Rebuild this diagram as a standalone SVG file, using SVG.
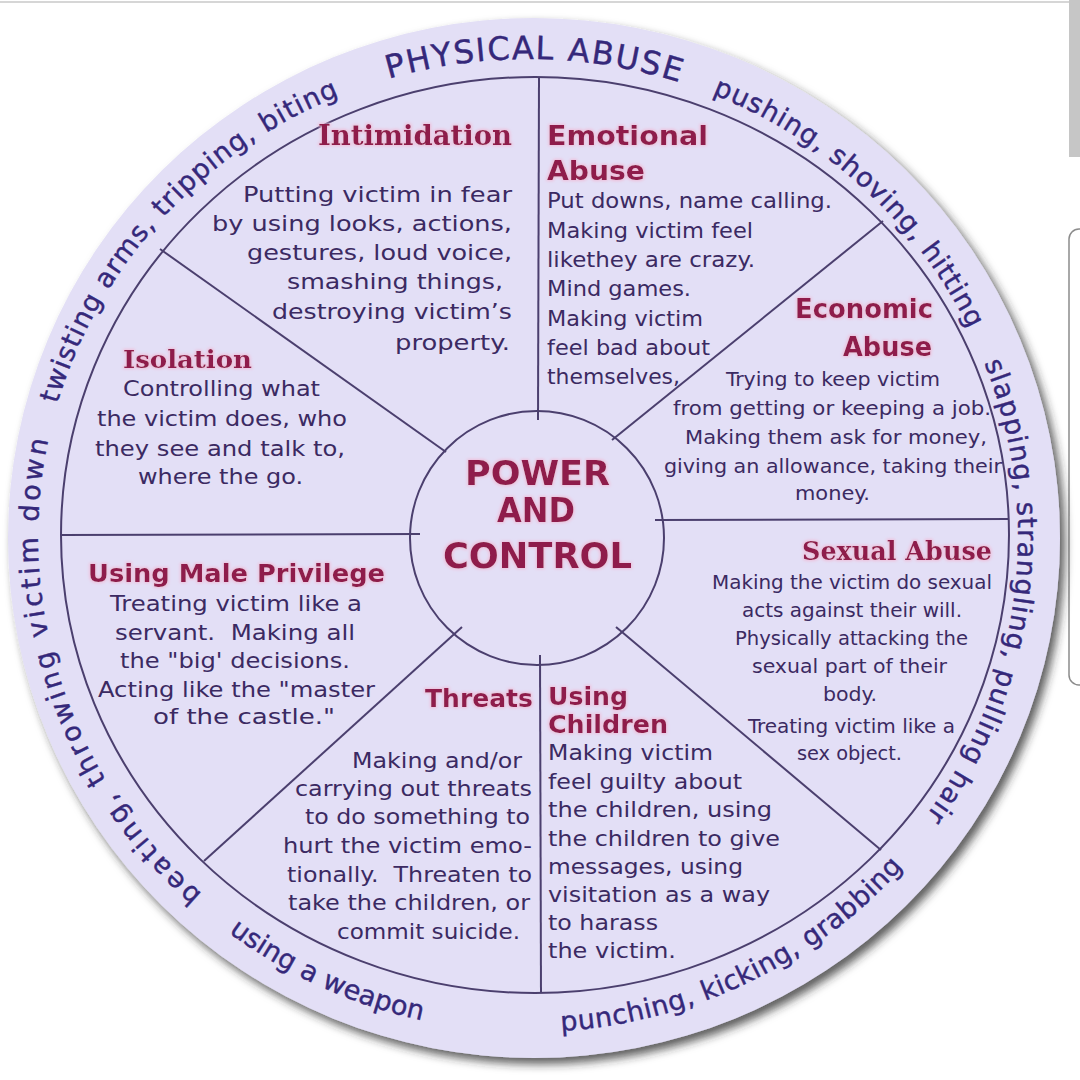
<svg xmlns="http://www.w3.org/2000/svg" width="1080" height="1080" viewBox="0 0 1080 1080">
<style>
.ring{font-family:"DejaVu Sans","Noto Sans",sans-serif;font-size:27px;fill:#35287a;stroke:#35287a;stroke-width:0.4}
.ringcap{font-family:"DejaVu Sans","Noto Sans",sans-serif;font-size:32px;fill:#35287a;stroke:#35287a;stroke-width:0.4}
.hs{font-family:"DejaVu Serif","Liberation Serif",serif;font-weight:bold;fill:#8f1d4b}
.hb{font-family:"DejaVu Sans","Liberation Sans",sans-serif;font-weight:bold;fill:#8f1d4b}
.b{font-family:"DejaVu Sans","Liberation Sans",sans-serif;font-size:21px;fill:#3b2a62}
.bn{font-family:"DejaVu Sans Condensed","DejaVu Sans","Liberation Sans",sans-serif;font-size:20px;fill:#3b2a62}
.ln{stroke:#4b3f6e;stroke-width:2;fill:none}
</style>
<defs>
<filter id="shadow" x="-5%" y="-5%" width="112%" height="112%">
<feDropShadow dx="5" dy="6" stdDeviation="5" flood-color="#2a2a2a" flood-opacity="0.75"/>
</filter>
<filter id="glow" x="-10%" y="-30%" width="120%" height="160%">
<feMorphology in="SourceAlpha" operator="dilate" radius="1" result="d"/>
<feGaussianBlur in="d" stdDeviation="1.5" result="bl"/>
<feFlood flood-color="#f2b6d2" flood-opacity="0.8"/>
<feComposite in2="bl" operator="in" result="g"/>
<feMerge><feMergeNode in="g"/><feMergeNode in="SourceGraphic"/></feMerge>
</filter>
<path id="cw" d="M 528 1015 A 490 478 0 0 1 528 59 A 490 478 0 0 1 528 1015"/>
<path id="ccw" d="M 30 539 A 500 493 0 0 0 1030 539"/>
</defs>
<rect width="1080" height="1080" fill="#ffffff"/>
<line x1="0" y1="2" x2="1080" y2="2" stroke="#d6d6d6" stroke-width="2"/>
<rect x="1069" y="0" width="11" height="157" fill="#c6c6c6"/>
<rect x="1069" y="229" width="24" height="456" rx="10" fill="#ffffff" stroke="#8c8c8c" stroke-width="1.5"/>

<g id="wheel">
<ellipse cx="534" cy="538" rx="526" ry="520" fill="#e3dff6" filter="url(#shadow)"/>
<ellipse cx="535" cy="535" rx="474" ry="458" class="ln"/>
</g>

<g id="connectors" class="ln">
<line x1="539" y1="77" x2="538" y2="420"/>
<line x1="541" y1="993" x2="540" y2="655"/>
<line x1="61" y1="535" x2="420" y2="534"/>
<line x1="1009" y1="519" x2="655" y2="520"/>
<line x1="160" y1="249" x2="446" y2="452"/>
<line x1="883" y1="221" x2="612" y2="440"/>
<line x1="204" y1="861" x2="462" y2="627"/>
<line x1="881" y1="850" x2="616" y2="627"/>
</g>

<g id="center">
<circle cx="537" cy="538" r="127" fill="#e3dff6" class="ln"/>
<g filter="url(#glow)">
<text class="hb" font-size="34" x="465" y="485" textLength="145" lengthAdjust="spacingAndGlyphs">POWER</text>
<text class="hb" font-size="34" x="497" y="522" textLength="78" lengthAdjust="spacingAndGlyphs">AND</text>
<text class="hb" font-size="36" x="443" y="568" textLength="189" lengthAdjust="spacingAndGlyphs">CONTROL</text>
</g>
</g>

<g id="physical-abuse">
<text class="ring"><textPath href="#cw" startOffset="355" textLength="503" lengthAdjust="spacing">beating, throwing victim down</textPath></text>
<text class="ring"><textPath href="#cw" startOffset="895" textLength="432" lengthAdjust="spacing">twisting arms, tripping, biting</textPath></text>
<text class="ringcap"><textPath href="#cw" startOffset="1379" textLength="295" lengthAdjust="spacing">PHYSICAL ABUSE</textPath></text>
<text class="ring"><textPath href="#cw" startOffset="1709" textLength="356" lengthAdjust="spacing">pushing, shoving, hitting</textPath></text>
<text class="ring"><textPath href="#cw" startOffset="2102" textLength="477" lengthAdjust="spacing">slapping, strangling, pulling hair</textPath></text>
<text class="ring"><textPath href="#ccw" startOffset="457" textLength="214" lengthAdjust="spacing">using a weapon</textPath></text>
<text class="ring"><textPath href="#ccw" startOffset="811" textLength="389" lengthAdjust="spacing">punching, kicking, grabbing</textPath></text>
</g>

<g id="intimidation">
<text class="hs" font-size="27" x="318" y="145" textLength="194" lengthAdjust="spacingAndGlyphs" filter="url(#glow)">Intimidation</text>
<text class="b" x="243" y="202" textLength="269" lengthAdjust="spacingAndGlyphs">Putting victim in fear</text>
<text class="b" x="212" y="231" textLength="300" lengthAdjust="spacingAndGlyphs">by using looks, actions,</text>
<text class="b" x="247" y="260" textLength="265" lengthAdjust="spacingAndGlyphs">gestures, loud voice,</text>
<text class="b" x="287" y="289" textLength="216" lengthAdjust="spacingAndGlyphs">smashing things,</text>
<text class="b" x="272" y="319" textLength="240" lengthAdjust="spacingAndGlyphs">destroying victim’s</text>
<text class="b" x="395" y="350" textLength="115" lengthAdjust="spacingAndGlyphs">property.</text>
</g>

<g id="emotional-abuse">
<g filter="url(#glow)">
<text class="hb" font-size="27" x="547" y="145" textLength="161" lengthAdjust="spacingAndGlyphs">Emotional</text>
<text class="hb" font-size="27" x="547" y="180" textLength="98" lengthAdjust="spacingAndGlyphs">Abuse</text>
</g>
<text class="b" x="547" y="208" textLength="285" lengthAdjust="spacingAndGlyphs">Put downs, name calling.</text>
<text class="b" x="547" y="238" textLength="206" lengthAdjust="spacingAndGlyphs">Making victim feel</text>
<text class="b" x="547" y="267" textLength="208" lengthAdjust="spacingAndGlyphs">likethey are crazy.</text>
<text class="b" x="547" y="296" textLength="144" lengthAdjust="spacingAndGlyphs">Mind games.</text>
<text class="b" x="547" y="326" textLength="156" lengthAdjust="spacingAndGlyphs">Making victim</text>
<text class="b" x="547" y="355" textLength="163" lengthAdjust="spacingAndGlyphs">feel bad about</text>
<text class="b" x="547" y="384" textLength="133" lengthAdjust="spacingAndGlyphs">themselves,</text>
</g>

<g id="economic-abuse">
<g filter="url(#glow)">
<text class="hb" font-size="27" x="795" y="318" textLength="138" lengthAdjust="spacingAndGlyphs">Economic</text>
<text class="hb" font-size="27" x="843" y="356" textLength="89" lengthAdjust="spacingAndGlyphs">Abuse</text>
</g>
<text class="bn" x="726" y="386" textLength="214" lengthAdjust="spacingAndGlyphs">Trying to keep victim</text>
<text class="bn" x="673" y="415" textLength="318" lengthAdjust="spacingAndGlyphs">from getting or keeping a job.</text>
<text class="bn" x="685" y="444" textLength="302" lengthAdjust="spacingAndGlyphs">Making them ask for money,</text>
<text class="bn" x="664" y="473" textLength="338" lengthAdjust="spacingAndGlyphs">giving an allowance, taking their</text>
<text class="bn" x="795" y="500" textLength="75" lengthAdjust="spacingAndGlyphs">money.</text>
</g>

<g id="sexual-abuse">
<text class="hs" font-size="26" x="802" y="560" textLength="190" lengthAdjust="spacingAndGlyphs" filter="url(#glow)">Sexual Abuse</text>
<text class="bn" x="712" y="589" textLength="280" lengthAdjust="spacingAndGlyphs">Making the victim do sexual</text>
<text class="bn" x="742" y="617" textLength="220" lengthAdjust="spacingAndGlyphs">acts against their will.</text>
<text class="bn" x="735" y="645" textLength="233" lengthAdjust="spacingAndGlyphs">Physically attacking the</text>
<text class="bn" x="752" y="673" textLength="195" lengthAdjust="spacingAndGlyphs">sexual part of their</text>
<text class="bn" x="823" y="701" textLength="54" lengthAdjust="spacingAndGlyphs">body.</text>
<text class="bn" x="748" y="733" textLength="207" lengthAdjust="spacingAndGlyphs">Treating victim like a</text>
<text class="bn" x="797" y="760" textLength="105" lengthAdjust="spacingAndGlyphs">sex object.</text>
</g>

<g id="using-children">
<g filter="url(#glow)">
<text class="hb" font-size="25" x="548" y="705" textLength="80" lengthAdjust="spacingAndGlyphs">Using</text>
<text class="hb" font-size="25" x="548" y="733" textLength="120" lengthAdjust="spacingAndGlyphs">Children</text>
</g>
<text class="b" x="548" y="760" textLength="165" lengthAdjust="spacingAndGlyphs">Making victim</text>
<text class="b" x="548" y="789" textLength="194" lengthAdjust="spacingAndGlyphs">feel guilty about</text>
<text class="b" x="548" y="817" textLength="224" lengthAdjust="spacingAndGlyphs">the children, using</text>
<text class="b" x="548" y="846" textLength="232" lengthAdjust="spacingAndGlyphs">the children to give</text>
<text class="b" x="548" y="874" textLength="195" lengthAdjust="spacingAndGlyphs">messages, using</text>
<text class="b" x="548" y="902" textLength="222" lengthAdjust="spacingAndGlyphs">visitation as a way</text>
<text class="b" x="548" y="930" textLength="110" lengthAdjust="spacingAndGlyphs">to harass</text>
<text class="b" x="548" y="958" textLength="128" lengthAdjust="spacingAndGlyphs">the victim.</text>
</g>

<g id="threats">
<text class="hb" font-size="25" x="425" y="707" textLength="108" lengthAdjust="spacingAndGlyphs" filter="url(#glow)">Threats</text>
<text class="b" x="352" y="768" textLength="170" lengthAdjust="spacingAndGlyphs">Making and/or</text>
<text class="b" x="295" y="796" textLength="237" lengthAdjust="spacingAndGlyphs">carrying out threats</text>
<text class="b" x="305" y="824" textLength="225" lengthAdjust="spacingAndGlyphs">to do something to</text>
<text class="b" x="283" y="853" textLength="249" lengthAdjust="spacingAndGlyphs">hurt the victim emo-</text>
<text class="b" x="287" y="882" textLength="245" lengthAdjust="spacingAndGlyphs" style="white-space:pre">tionally.  Threaten to</text>
<text class="b" x="288" y="910" textLength="242" lengthAdjust="spacingAndGlyphs">take the children, or</text>
<text class="b" x="337" y="939" textLength="183" lengthAdjust="spacingAndGlyphs">commit suicide.</text>
</g>

<g id="using-male-privilege">
<text class="hb" font-size="24" x="88" y="582" textLength="297" lengthAdjust="spacingAndGlyphs" filter="url(#glow)">Using Male Privilege</text>
<text class="b" x="110" y="611" textLength="252" lengthAdjust="spacingAndGlyphs">Treating victim like a</text>
<text class="b" x="115" y="640" textLength="240" lengthAdjust="spacingAndGlyphs" style="white-space:pre">servant.  Making all</text>
<text class="b" x="120" y="668" textLength="230" lengthAdjust="spacingAndGlyphs">the "big' decisions.</text>
<text class="b" x="98" y="697" textLength="277" lengthAdjust="spacingAndGlyphs">Acting like the "master</text>
<text class="b" x="153" y="724" textLength="182" lengthAdjust="spacingAndGlyphs">of the castle."</text>
</g>

<g id="isolation">
<text class="hs" font-size="25" x="123" y="368" textLength="129" lengthAdjust="spacingAndGlyphs" filter="url(#glow)">Isolation</text>
<text class="b" x="123" y="396" textLength="197" lengthAdjust="spacingAndGlyphs">Controlling what</text>
<text class="b" x="97" y="426" textLength="250" lengthAdjust="spacingAndGlyphs">the victim does, who</text>
<text class="b" x="95" y="456" textLength="250" lengthAdjust="spacingAndGlyphs">they see and talk to,</text>
<text class="b" x="138" y="484" textLength="165" lengthAdjust="spacingAndGlyphs">where the go.</text>
</g>
</svg>
